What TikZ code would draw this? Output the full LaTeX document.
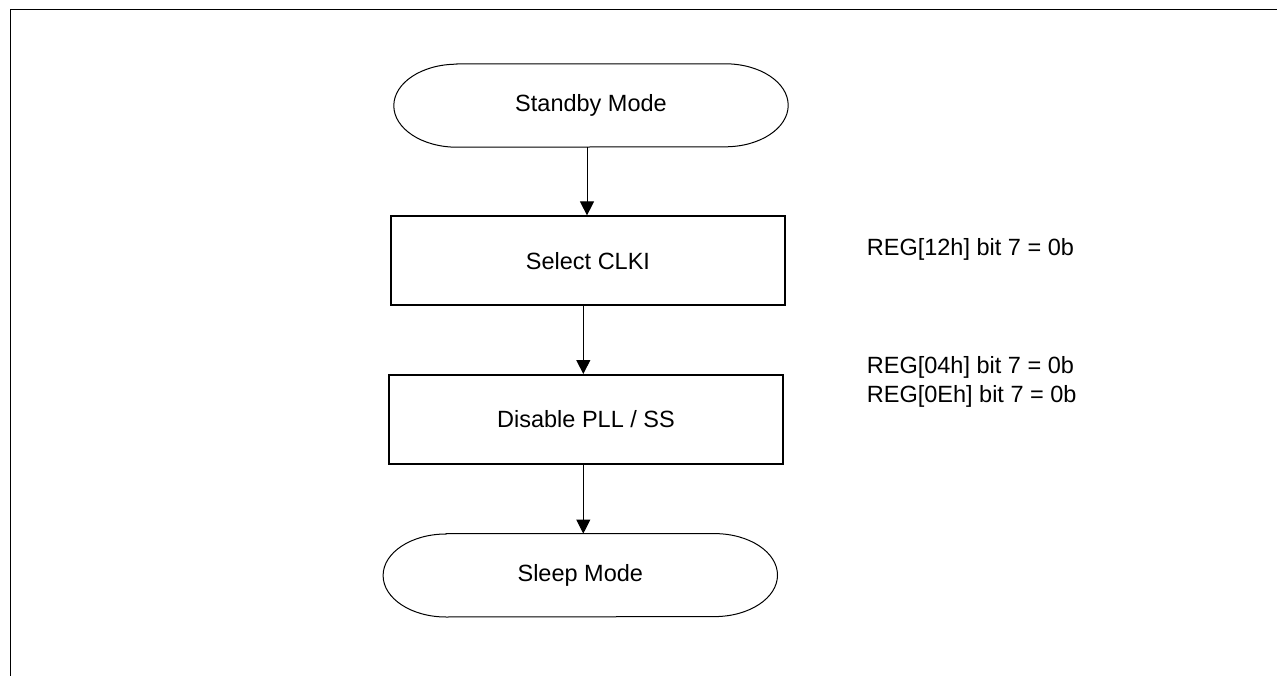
\documentclass[tikz,border=0pt]{standalone}
\usepackage{fontspec}
\setmainfont{Liberation Sans}
\usetikzlibrary{arrows.meta}
\begin{document}
\begin{tikzpicture}[x=1pt,y=1pt,
  txt/.style={font=\fontsize{23.5}{29.3}\selectfont},
  procbox/.style={draw,line width=1.6pt,minimum width=394pt,minimum height=89pt,inner sep=0pt,txt},
  termnode/.style={minimum width=394pt,minimum height=83pt,inner sep=0pt,txt},
  termline/.style={line width=1pt},
  arr/.style={line width=1pt,-{Triangle[length=14pt,width=14pt]}},
  note/.style={anchor=base west,inner sep=0pt,align=left,txt},
  frame/.style={line width=1.2pt}]
\useasboundingbox (0,0) rectangle (1277,-676);
\draw[frame] (1277,-9.5) -- (10.5,-9.5) -- (10.5,-676);
% nodes
\node[termnode] (sb) at (591,-105.5) {Standby Mode};
\node[procbox] (sel) at (588,-260.7) {Select CLKI};
\node[procbox] (dis) at (586,-419.3) {Disable PLL / SS};
\node[termnode] (sl) at (580.3,-575.3) {Sleep Mode};
% terminator outlines
\foreach \n in {sb,sl}{
  \draw[termline] ([xshift=63pt]\n.north west) -- ([xshift=-63pt]\n.north east)
    arc[start angle=90,end angle=-90,x radius=63pt,y radius=41.5pt]
    -- ([xshift=63pt]\n.south west)
    arc[start angle=270,end angle=90,x radius=63pt,y radius=41.5pt] -- cycle;
}
% connectors
\draw[arr] ([xshift=-1pt]sel.north |- sb.south) -- ([xshift=-1pt]sel.north);
\draw[arr] ([xshift=-2.7pt]dis.north |- sel.south) -- ([xshift=-2.7pt]dis.north);
\draw[arr] ([xshift=3pt]sl.north |- dis.south) -- ([xshift=3pt]sl.north);
% notes
\node[note] (n1) at (866.7,-256) {REG[12h] bit 7 = 0b};
\node[note] (n2) at (866.7,-402.7) {REG[04h] bit 7 = 0b\\REG[0Eh] bit 7 = 0b};
\end{tikzpicture}
\end{document}
